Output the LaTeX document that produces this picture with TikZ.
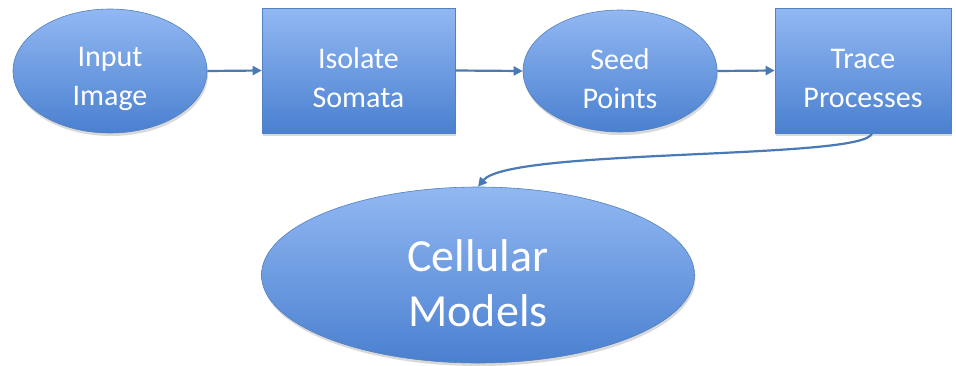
\documentclass[tikz,border=0pt]{standalone}
\usepackage{fontspec}
\setmainfont{Carlito}
\usetikzlibrary{shapes.geometric,arrows.meta,shadows}

\definecolor{boxtop}{RGB}{146,184,242}
\definecolor{boxbottom}{RGB}{74,128,208}
\definecolor{boxline}{RGB}{82,128,192}
\definecolor{linkblue}{RGB}{74,122,182}

\tikzset{
  x=1pt, y=-1pt,
  shapebase/.style={top color=boxtop, bottom color=boxbottom, draw=boxline,
    line width=0.6pt, inner sep=0pt, text=white, align=center,
    font=\fontsize{30}{39}\selectfont, text height=75pt,
    drop shadow={shadow xshift=1pt, shadow yshift=-3pt, opacity=0.25, fill=black!60}},
  oval/.style={shapebase, ellipse},
  stepbox/.style={shapebase, rectangle},
  link/.style={draw=linkblue, line width=2.2pt,
    -{Triangle[length=9pt,width=9pt]}}
}

\begin{document}
\begin{tikzpicture}
\useasboundingbox (0,0) rectangle (956,365);

\node[oval, minimum width=194pt, minimum height=124pt] (input) at (110,71) {Input\\Image};
\node[stepbox, minimum width=193pt, minimum height=125pt] (isolate) at (358.5,70.5) {Isolate\\Somata};
\node[oval, minimum width=194pt, minimum height=122pt] (seed) at (620,71) {Seed\\Points};
\node[stepbox, minimum width=176pt, minimum height=125pt] (trace) at (863,70.5) {Trace\\Processes};
\node[oval, minimum width=433pt, minimum height=176pt,
      font=\fontsize{46}{55}\selectfont, text height=103pt] (cell) at (478,275) {Cellular\\Models};

\draw[link] (input.east) -- (isolate.west);
\draw[link] (isolate.east) -- (seed.west);
\draw[link] (seed.east) -- (trace.west);
\draw[link] ([xshift=9pt]trace.south) .. controls (866,160) and (510,148) .. (cell.north);
\end{tikzpicture}
\end{document}
